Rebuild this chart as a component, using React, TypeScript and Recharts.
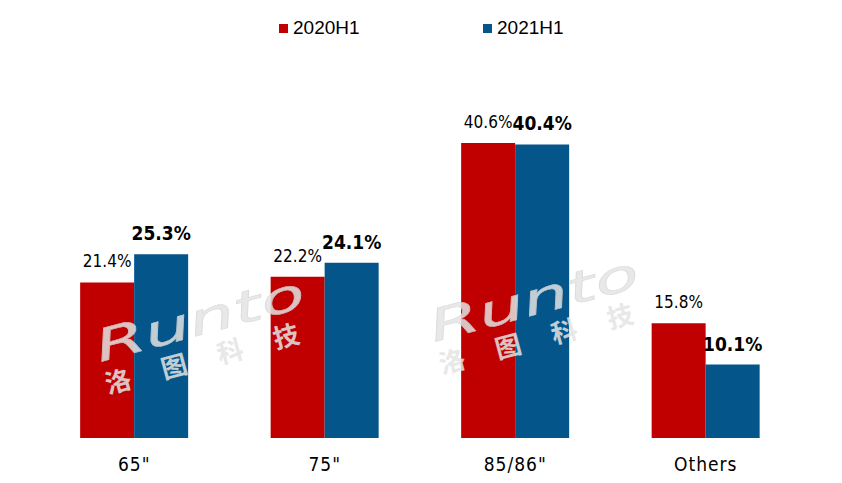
import { BarChart, Bar, XAxis, YAxis, LabelList, Legend } from "recharts";

const categories = ['65"', '75"', '85/86"', "Others"];
const share2020 = [21.4, 22.2, 40.6, 15.8];
const share2021 = [25.3, 24.1, 40.4, 10.1];

const RED = "#C00000";
const BLUE = "#04558A";
const NARROW = "'DejaVu Sans Condensed', 'DejaVu Sans', sans-serif";

const data = categories.map((c, i) => ({
  name: c,
  h2020: share2020[i],
  h2021: share2021[i],
}));

function makeLabel(bold: boolean) {
  return (props: any) => {
    const { x, y, width, value } = props;
    return (
      <text
        x={x + width / 2}
        y={y - 21}
        textAnchor="middle"
        dominantBaseline="central"
        fontFamily={NARROW}
        fontSize={bold ? 19 : 17}
        fontWeight={bold ? "bold" : "normal"}
        style={{ fontStretch: "condensed" }}
        fill="#000"
      >
        {`${value.toFixed(1)}%`}
      </text>
    );
  };
}

function Tick(props: any) {
  const { x, y, payload } = props;
  return (
    <text
      x={x}
      y={y}
      dy={25}
      textAnchor="middle"
      fontFamily={NARROW}
      fontSize={19}
      letterSpacing={1}
      style={{ fontStretch: "condensed" }}
      fill="#000"
    >
      {payload.value}
    </text>
  );
}

function LegendBox() {
  const items = [
    { label: "2020H1", color: RED },
    { label: "2021H1", color: BLUE },
  ];
  return (
    <div style={{ position: "relative", height: 30 }}>
      {items.map((it, i) => (
        <div
          key={it.label}
          style={{
            position: "absolute",
            left: 279 + i * 204,
            top: 0,
            display: "flex",
            alignItems: "center",
            fontFamily: "'Liberation Sans', Arial, sans-serif",
            fontSize: 19,
            color: "#000",
          }}
        >
          <span
            style={{
              width: 9,
              height: 9,
              background: it.color,
              display: "inline-block",
              marginRight: 5,
            }}
          />
          {it.label}
        </div>
      ))}
    </div>
  );
}

function Watermark({ dx, dy }: { dx: number; dy: number }) {
  return (
    <g transform={`translate(${dx},${dy})`} opacity={0.85}>
      <text
        x={100}
        y={362}
        transform="rotate(-15 100 362)"
        fontFamily="'DejaVu Sans', sans-serif"
        fontSize={44}
        fontStyle="italic"
        textLength={215}
        lengthAdjust="spacingAndGlyphs"
        fill="#e4e4e4"
        stroke="#d6d6d6"
        strokeWidth={0.6}
      >
        Runto
      </text>
      <text
        x={108}
        y={394}
        transform="rotate(-15 108 394)"
        fontFamily="'Noto Sans CJK SC', sans-serif"
        fontSize={26}
        fontWeight="bold"
        textLength={200}
        fill="#e4e4e4"
      >
        洛图科技
      </text>
    </g>
  );
}

export default function App() {
  return (
    <div style={{ position: "absolute", left: 0, top: 0, width: 842, height: 483, background: "#fff" }}>
      <BarChart
        width={842}
        height={483}
        data={data}
        margin={{ top: 111, right: 41, bottom: 15, left: 39 }}
        barGap={0}
        barCategoryGap="21.6%"
      >
        <XAxis dataKey="name" axisLine={false} tickLine={false} tick={<Tick />} interval={0} />
        <YAxis hide domain={[0, 45]} />
        <Legend
          verticalAlign="middle"
          content={() => <LegendBox />}
          wrapperStyle={{ top: 17, left: 0, width: 842 }}
        />
        <Bar dataKey="h2020" name="2020H1" fill={RED} isAnimationActive={false}>
          <LabelList dataKey="h2020" content={makeLabel(false)} />
        </Bar>
        <Bar dataKey="h2021" name="2021H1" fill={BLUE} isAnimationActive={false}>
          <LabelList dataKey="h2021" content={makeLabel(true)} />
        </Bar>
      </BarChart>
      <svg
        width={842}
        height={483}
        style={{ position: "absolute", left: 0, top: 0, pointerEvents: "none" }}
      >
        <Watermark dx={0} dy={0} />
        <Watermark dx={334} dy={-20} />
      </svg>
    </div>
  );
}
